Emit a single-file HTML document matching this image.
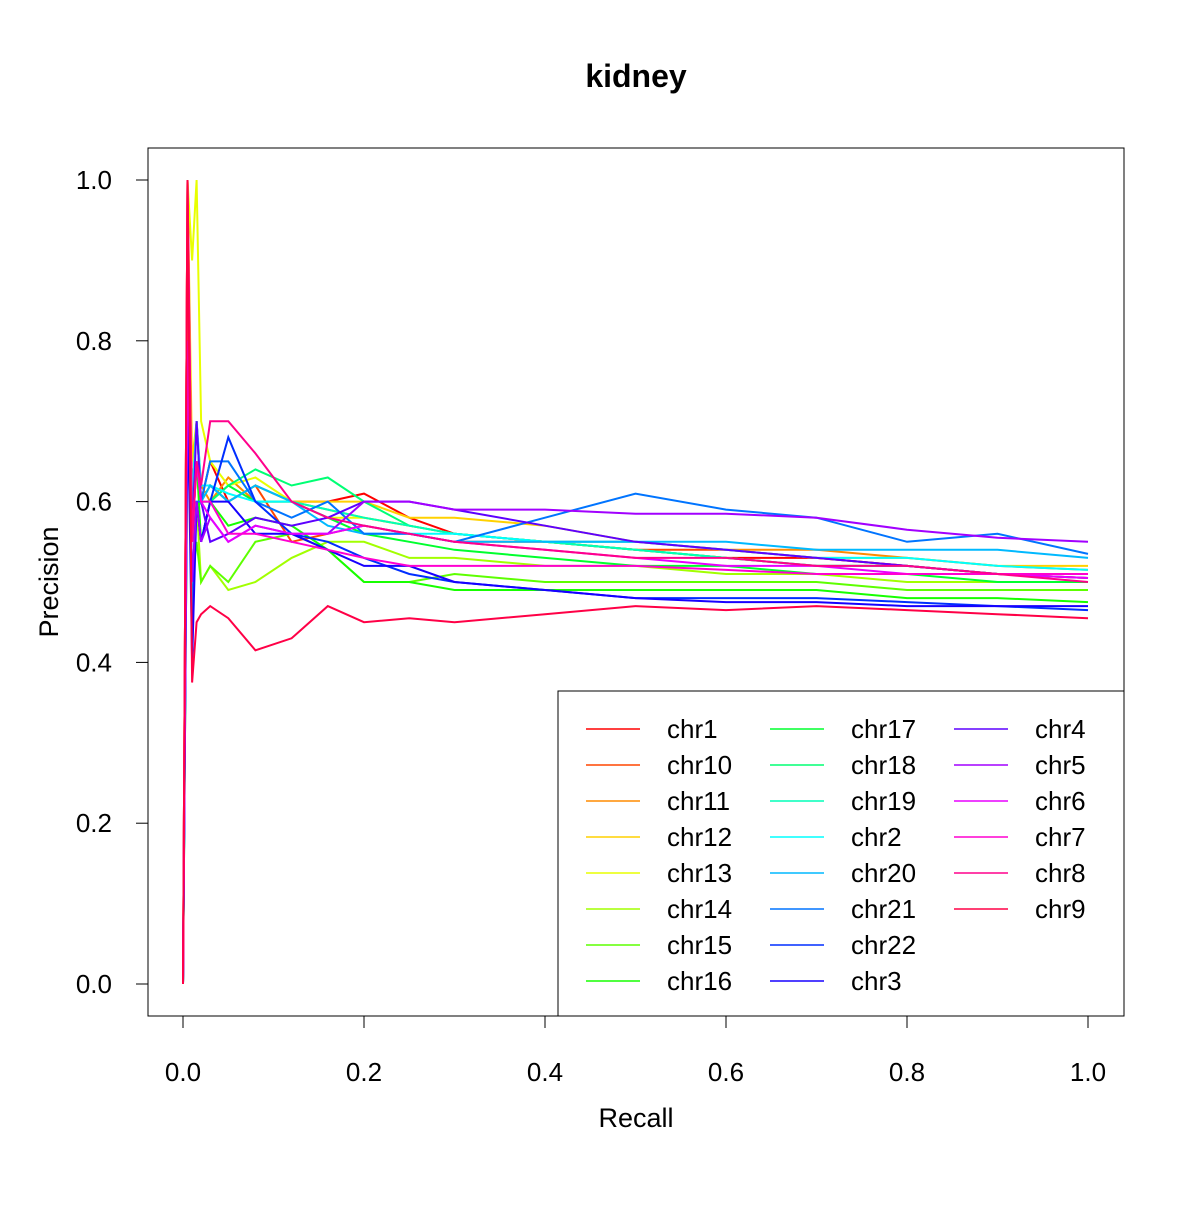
<!DOCTYPE html>
<html><head><meta charset="utf-8"><style>
html,body{margin:0;padding:0;background:#fff}
svg text{font-family:"Liberation Sans",sans-serif;fill:#000}
</style></head><body>
<svg id="chart" width="1200" height="1200" xmlns="http://www.w3.org/2000/svg">
<rect width="1200" height="1200" fill="#fff"/>
<text x="636" y="87" font-size="32" font-weight="bold" text-anchor="middle">kidney</text>
<g id="plot"></g>
<rect x="148" y="148" width="976" height="868" fill="none" stroke="#000" stroke-width="1"/>
<g id="axes"></g>
<text x="636" y="1127" font-size="27" text-anchor="middle">Recall</text>
<text transform="translate(58,582) rotate(-90)" font-size="27" text-anchor="middle">Precision</text>
<g id="legend"></g>
</svg>
<script>
const recall = [0,0.005,0.01,0.015,0.02,0.03,0.05,0.08,0.12,0.16,0.2,0.25,0.3,0.4,0.5,0.6,0.7,0.8,0.9,1.0];
const seriesNames = ["chr1","chr10","chr11","chr12","chr13","chr14","chr15","chr16","chr17","chr18","chr19","chr2","chr20","chr21","chr22","chr3","chr4","chr5","chr6","chr7","chr8","chr9"];
const chr1  = [0,1,0.6,0.7,0.6,0.65,0.6,0.62,0.6,0.6,0.61,0.58,0.56,0.55,0.54,0.53,0.53,0.52,0.51,0.51];
const chr10 = [0,0.9,0.55,0.65,0.6,0.62,0.6,0.62,0.55,0.56,0.57,0.56,0.55,0.55,0.54,0.54,0.53,0.52,0.51,0.505];
const chr11 = [0,0.8,0.6,0.7,0.62,0.6,0.63,0.6,0.6,0.59,0.58,0.57,0.56,0.55,0.55,0.54,0.54,0.53,0.52,0.515];
const chr12 = [0,1,0.65,0.7,0.6,0.62,0.6,0.62,0.6,0.6,0.6,0.58,0.58,0.57,0.55,0.54,0.53,0.53,0.52,0.52];
const chr13 = [0,1,0.9,1.0,0.7,0.65,0.62,0.63,0.6,0.58,0.58,0.57,0.56,0.55,0.54,0.53,0.52,0.52,0.51,0.505];
const chr14 = [0,0.7,0.55,0.6,0.5,0.52,0.49,0.5,0.53,0.55,0.55,0.53,0.53,0.52,0.52,0.51,0.51,0.5,0.5,0.5];
const chr15 = [0,0.8,0.5,0.55,0.5,0.52,0.5,0.55,0.56,0.54,0.5,0.5,0.51,0.5,0.5,0.5,0.5,0.49,0.49,0.49];
const chr16 = [0,0.75,0.6,0.65,0.55,0.6,0.57,0.58,0.57,0.54,0.5,0.5,0.49,0.49,0.49,0.49,0.49,0.48,0.48,0.475];
const chr17 = [0,0.7,0.6,0.65,0.6,0.6,0.62,0.6,0.6,0.58,0.56,0.55,0.54,0.53,0.52,0.52,0.51,0.51,0.5,0.5];
const chr18 = [0,0.75,0.6,0.7,0.6,0.6,0.62,0.64,0.62,0.63,0.6,0.57,0.56,0.55,0.54,0.53,0.52,0.52,0.51,0.51];
const chr19 = [0,0.75,0.6,0.7,0.6,0.62,0.6,0.62,0.6,0.59,0.58,0.57,0.56,0.55,0.54,0.53,0.52,0.52,0.51,0.51];
const chr2  = [0,0.8,0.6,0.7,0.62,0.62,0.61,0.6,0.6,0.58,0.57,0.56,0.56,0.55,0.55,0.54,0.53,0.53,0.52,0.515];
const chr20 = [0,0.75,0.6,0.65,0.6,0.62,0.6,0.62,0.6,0.57,0.56,0.56,0.55,0.55,0.55,0.55,0.54,0.54,0.54,0.53];
const chr21 = [0,0.8,0.45,0.6,0.6,0.65,0.65,0.6,0.58,0.6,0.56,0.56,0.55,0.58,0.61,0.59,0.58,0.55,0.56,0.535];
const chr22 = [0,0.7,0.5,0.6,0.55,0.6,0.68,0.6,0.56,0.55,0.53,0.51,0.5,0.49,0.48,0.48,0.48,0.475,0.47,0.465];
const chr3  = [0,0.75,0.4,0.6,0.55,0.6,0.6,0.56,0.56,0.54,0.52,0.52,0.5,0.49,0.48,0.475,0.475,0.47,0.47,0.47];
const chr4  = [0,0.8,0.55,0.7,0.6,0.55,0.56,0.58,0.57,0.58,0.6,0.6,0.59,0.57,0.55,0.54,0.53,0.52,0.51,0.505];
const chr5  = [0,0.8,0.5,0.6,0.55,0.58,0.55,0.57,0.56,0.56,0.6,0.6,0.59,0.59,0.585,0.585,0.58,0.565,0.555,0.55];
const chr6  = [0,0.8,0.55,0.65,0.6,0.58,0.55,0.57,0.56,0.56,0.57,0.56,0.55,0.54,0.53,0.52,0.52,0.51,0.51,0.505];
const chr7  = [0,1,0.55,0.65,0.6,0.6,0.56,0.56,0.55,0.54,0.53,0.52,0.52,0.52,0.52,0.515,0.51,0.51,0.51,0.51];
const chr8  = [0,1,0.55,0.65,0.62,0.7,0.7,0.66,0.6,0.58,0.57,0.56,0.55,0.54,0.53,0.53,0.52,0.52,0.51,0.5];
const chr9  = [0,1,0.375,0.45,0.46,0.47,0.455,0.415,0.43,0.47,0.45,0.455,0.45,0.46,0.47,0.465,0.47,0.465,0.46,0.455];
const seriesValues = [chr1,chr10,chr11,chr12,chr13,chr14,chr15,chr16,chr17,chr18,chr19,chr2,chr20,chr21,chr22,chr3,chr4,chr5,chr6,chr7,chr8,chr9];
const tickLabels = ["0.0","0.2","0.4","0.6","0.8","1.0"];
const tickValues = [0,0.2,0.4,0.6,0.8,1.0];

const NS="http://www.w3.org/2000/svg";
const xs = v => 183 + v*905;
const ys = v => 984 - v*804;
function hsvColor(h){
  const i=Math.floor(h*6), f=h*6-i, q=1-f;
  const c=[[1,f,0],[q,1,0],[0,1,f],[0,q,1],[f,0,1],[1,0,q]][i%6];
  return "rgb("+c.map(v=>Math.round(v*255)).join(",")+")";
}
const colors = seriesNames.map((n,i)=>hsvColor(i/seriesNames.length));
const plot=document.getElementById("plot");
seriesValues.forEach((vals,i)=>{
  const p=document.createElementNS(NS,"polyline");
  p.setAttribute("points", vals.map((v,j)=>xs(recall[j]).toFixed(1)+","+ys(v).toFixed(1)).join(" "));
  p.setAttribute("fill","none");
  p.setAttribute("stroke",colors[i]);
  p.setAttribute("stroke-width","2");
  
  
  plot.appendChild(p);
});
const axes=document.getElementById("axes");
function add(parent,tag,attrs,text){
  const e=document.createElementNS(NS,tag);
  for(const k in attrs) e.setAttribute(k,attrs[k]);
  if(text!==undefined) e.textContent=text;
  parent.appendChild(e); return e;
}
add(axes,"line",{x1:xs(0),x2:xs(1),y1:1016,y2:1016,stroke:"#000"});
add(axes,"line",{x1:148,x2:148,y1:ys(0),y2:ys(1),stroke:"#000"});
tickValues.forEach((v,i)=>{
  add(axes,"line",{x1:xs(v),x2:xs(v),y1:1016,y2:1028,stroke:"#000"});
  const tx=add(axes,"text",{x:xs(v),y:1081,"font-size":26,"text-anchor":"middle"},tickLabels[i]);
  
  
  add(axes,"line",{x1:136,x2:148,y1:ys(v),y2:ys(v),stroke:"#000"});
  const ty=add(axes,"text",{x:112,y:ys(v)+9,"font-size":26,"text-anchor":"end"},tickLabels[i]);
  
  
});
const leg=document.getElementById("legend");
add(leg,"rect",{x:558,y:691,width:566,height:325,fill:"#fff",stroke:"#000"});
seriesNames.forEach((n,i)=>{
  const col=Math.floor(i/8), row=i%8;
  const lx=586+col*184, ly=729+row*36;
  const g=add(leg,"g",{});
  
  
  add(g,"line",{x1:lx,x2:lx+54,y1:ly,y2:ly,stroke:colors[i],"stroke-width":1.5});
  add(g,"text",{x:lx+81,y:ly+9,"font-size":26},n);
});
</script>
</body></html>
